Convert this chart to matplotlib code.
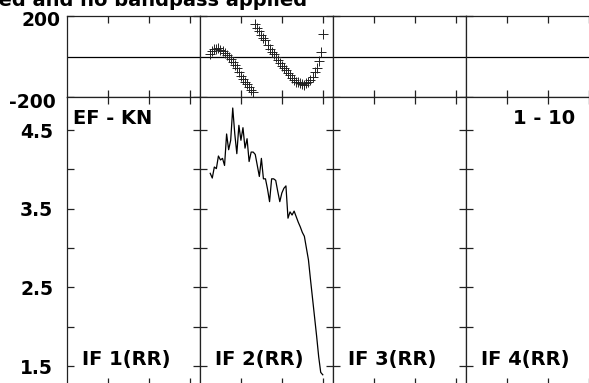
import numpy as np
import matplotlib
matplotlib.use('Agg')
from matplotlib import pyplot as plt
from matplotlib.transforms import ScaledTranslation

plt.rcParams['font.family'] = ['DejaVu Sans']
plt.rcParams['font.weight'] = 'bold'

# channel numbers with data in IF 2
channels = list(range(5, 61))
amp_if2 = [3.95, 3.89, 4.03, 4.01, 4.17, 4.12, 4.14, 4.05, 4.45, 4.25,
           4.37, 4.78, 4.45, 4.20, 4.56, 4.37, 4.53, 4.27, 4.39, 4.10,
           4.22, 4.22, 4.19, 4.05, 3.91, 4.14, 3.88, 3.88, 3.75, 3.59,
           3.88, 3.88, 3.86, 3.72, 3.59, 3.70, 3.76, 3.79, 3.38, 3.46,
           3.42, 3.47, 3.40, 3.33, 3.27, 3.20, 3.15, 3.00, 2.85, 2.60,
           2.36, 2.12, 1.88, 1.62, 1.42, 1.39]
phase_if2 = [10, 28, 35, 38, 40, 33, 25, 16, 8, -2,
             -10, -25, -42, -58, -76, -95, -112, -125, -137, -150,
             -165, -177, 160, 141, 125, 108, 92, 80, 55, 35,
             21, 10, 0, -16, -32, -47, -57, -68, -80, -92,
             -105, -117, -124, -128, -131, -135, -139, -132, -124, -115,
             -100, -78, -55, -20, 24, 112]

if_labels = ['IF 1(RR)', 'IF 2(RR)', 'IF 3(RR)', 'IF 4(RR)']
amp_ticks = [1.5, 2.5, 3.5, 4.5]
amp_minor = [2.0, 3.0, 4.0]
phase_ticks = [-200, 200]
chan_ticks = [20, 40, 60]

W, H = 589, 383
fig = plt.figure(figsize=(W / 100, H / 100), dpi=100)


def box(x0, y0, x1, y1):
    # pixel box (from top-left) -> figure fraction
    return [x0 / W, 1 - y1 / H, (x1 - x0) / W, (y1 - y0) / H]


def style(ax, pad):
    for s in ax.spines.values():
        s.set_linewidth(0.9)
        s.set_color('#222222')
    ax.tick_params(which='both', direction='in', length=5, width=0.9,
                   color='#222222', top=True, right=True, labelsize=13.5,
                   pad=pad, labelbottom=False)
    ax.set_xlim(0, 65)
    ax.set_xticks(chan_ticks)


lefts = [67, 200, 333, 466]
for i, x0 in enumerate(lefts):
    ph = fig.add_axes(box(x0, 16, x0 + 133, 97))
    am = fig.add_axes(box(x0, 97, x0 + 133, 385))
    style(ph, 7)
    style(am, 10)

    ph.set_ylim(-200, 200)
    ph.set_yticks(phase_ticks)
    ph.set_yticklabels(['-200', '200'])
    ph.axhline(0, color='black', lw=0.9)

    am.set_ylim(1.26, 4.92)
    am.set_yticks(amp_ticks)
    am.set_yticks(amp_minor, minor=True)
    am.set_yticklabels(['1.5', '2.5', '3.5', '4.5'])

    if i > 0:
        ph.tick_params(labelleft=False)
        am.tick_params(labelleft=False)
    else:
        # nudge the phase labels like the original
        lo, hi = ph.get_yticklabels()
        lo.set_transform(lo.get_transform() + ScaledTranslation(-0.02, -0.03, fig.dpi_scale_trans))
        hi.set_transform(hi.get_transform() + ScaledTranslation(0.03, -0.03, fig.dpi_scale_trans))

    if i == 1:
        ph.plot(channels, phase_if2, '+', color='#222222', ms=7, mew=0.7)
        am.plot(channels, amp_if2, color='black', lw=0.9)

    am.text(15 / 133, (385 - 365) / 288, if_labels[i], transform=am.transAxes,
            fontsize=14, fontweight='bold', ha='left', va='baseline')
    if i == 0:
        am.text(6 / 133, (385 - 123.5) / 288, 'EF - KN', transform=am.transAxes,
                fontsize=14, fontweight='bold', ha='left', va='baseline')
    if i == 3:
        am.text(47 / 133, (385 - 123.5) / 288, '1 - 10', transform=am.transAxes,
                fontsize=14, fontweight='bold', ha='left', va='baseline')

fig.text(307 / W, 1 - 6 / H, 'Data calibrated and no bandpass applied',
         fontsize=14, fontweight='bold', ha='right', va='baseline')

fig.savefig('out.png', dpi=100)
